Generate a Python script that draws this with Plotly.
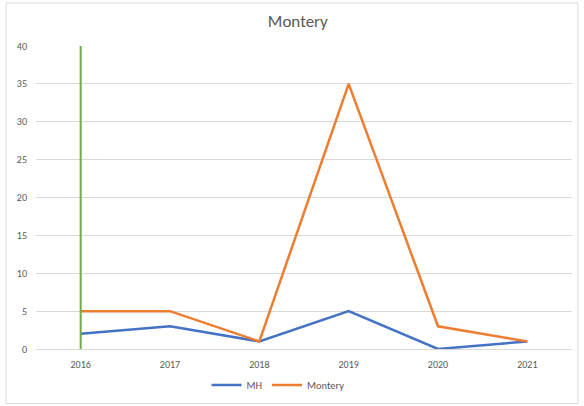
import plotly.graph_objects as go

years = ["2016", "2017", "2018", "2019", "2020", "2021"]
mh = [2, 3, 1, 5, 0, 1]
montery = [5, 5, 1, 35, 3, 1]
marker_year = ["2016", "2016"]
marker_range = [0, 40]

font_family = "Carlito, Calibri, 'Liberation Sans', Arial, sans-serif"
text_color = "#595959"

fig = go.Figure()
fig.add_trace(go.Scatter(x=years, y=mh, name="MH", mode="lines",
                         line=dict(color="#4472C4", width=2.5)))
fig.add_trace(go.Scatter(x=years, y=montery, name="Montery", mode="lines",
                         line=dict(color="#ED7D31", width=2.5)))
fig.add_trace(go.Scatter(x=marker_year, y=marker_range, mode="lines",
                         showlegend=False, hoverinfo="skip",
                         line=dict(color="#70AD47", width=2)))

fig.update_layout(
    width=584, height=406,
    margin=dict(l=36, r=12, t=46, b=57, autoexpand=False),
    paper_bgcolor="white", plot_bgcolor="white",
    font=dict(family=font_family, color=text_color, size=10),
    title=dict(text="Montery", x=0.51, xref="container", y=0.948, yanchor="middle",
               xanchor="center",
               font=dict(size=17, color=text_color, family=font_family)),
    showlegend=True,
    legend=dict(orientation="h", x=0.476, xanchor="center", xref="container",
                y=0.052, yanchor="middle", yref="container",
                font=dict(size=10.5, color=text_color),
                itemwidth=30, tracegroupgap=0),
    shapes=[dict(type="rect", xref="paper", yref="paper",
                 x0=-0.056, x1=1.011, y0=-0.18, y1=1.142,
                 line=dict(color="#D9D9D9", width=1))],
)
fig.update_xaxes(type="category", showgrid=False, showline=True,
                 linecolor="#D9D9D9", linewidth=1, ticks="",
                 tickfont=dict(size=10, color=text_color), ticklabelstandoff=6,
                 range=[-0.5, 5.5])
fig.update_yaxes(range=[0, 40], dtick=5, showgrid=True, gridcolor="#D9D9D9",
                 gridwidth=1, zeroline=False, showline=False,
                 tickfont=dict(size=10, color=text_color), ticklabelstandoff=8)

fig.write_html("out.html")
